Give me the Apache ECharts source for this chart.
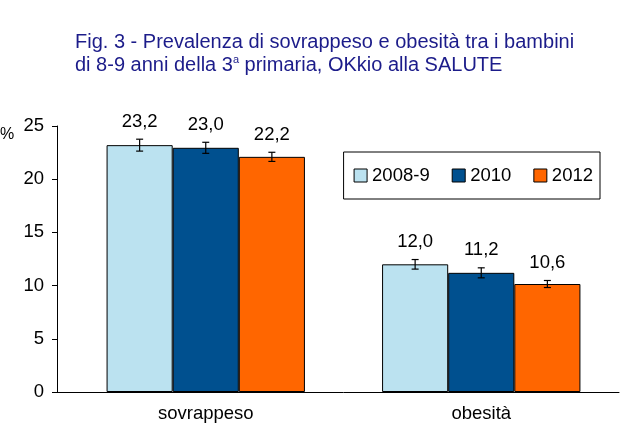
<!DOCTYPE html>
<html><head><meta charset="utf-8">
<script src="https://cdn.jsdelivr.net/npm/echarts@6/dist/echarts.min.js"></script>
<style>html,body{margin:0;padding:0;background:#fff}#c{width:633px;height:439px}</style>
</head><body><div id="c"></div>
<script>
const categories = ['sovrappeso', 'obesità'];
const years = ['2008-9', '2010', '2012'];
const values2008 = [23.2, 12.0];
const values2010 = [22.95, 11.2];
const values2012 = [22.1, 10.15];
const err2008 = [0.56, 0.45];
const err2010 = [0.52, 0.47];
const err2012 = [0.43, 0.33];
const labels2008 = ['23,2', '12,0'];
const labels2010 = ['23,0', '11,2'];
const labels2012 = ['22,2', '10,6'];
const yTicks = [0, 5, 10, 15, 20, 25];
const colors = ['#BBE2F0', '#00508F', '#FF6600'];

const allValues = [values2008, values2010, values2012];
const allErr = [err2008, err2010, err2012];
const allLabels = [labels2008, labels2010, labels2012];
const GAP = 0.28;

const chart = echarts.init(document.getElementById('c'));
const font = 'Liberation Sans, Arial, sans-serif';

const barSeries = years.map((y, i) => ({
  name: y, type: 'bar', data: allValues[i], barGap: '0%', barCategoryGap: (GAP*100)+'%',
  itemStyle: { color: colors[i], borderColor: '#000', borderWidth: 1 },
  z: 2
}));

const errSeries = years.map((y, i) => ({
  type: 'custom', name: 'err' + i, z: 5,
  data: allValues[i].map((v, k) => [k, v, allErr[i][k]]),
  renderItem: function (params, api) {
    const k = api.value(0), v = api.value(1), e = api.value(2);
    const catW = api.size([1, 0])[0];
    const bw = catW * (1 - GAP) / 3;
    const c = api.coord([k, v]);
    const x = c[0] + (i - 1) * bw;
    const top = api.coord([k, v + e])[1];
    const bot = api.coord([k, v - e])[1];
    const cap = 3.5;
    const st = { stroke: '#000', lineWidth: 1.2 };
    return { type: 'group', children: [
      { type: 'line', shape: { x1: x, y1: top, x2: x, y2: bot }, style: st },
      { type: 'line', shape: { x1: x - cap, y1: top, x2: x + cap, y2: top }, style: st },
      { type: 'line', shape: { x1: x - cap, y1: bot, x2: x + cap, y2: bot }, style: st },
      { type: 'text', style: { text: allLabels[i][k], x: x, y: top - 8, align: 'center', verticalAlign: 'bottom',
          font: '18.5px ' + font, fill: '#000' } }
    ]};
  }
}));

chart.setOption({
  animation: false,
  title: {
    text: '{a|Fig. 3 - Prevalenza di sovrappeso e obesità tra i bambini}\n{a|di 8-9 anni della 3}{s|a}{a| primaria, OKkio alla SALUTE}',
    left: 70, top: 26,
    textStyle: {
      fontWeight: 'normal',
      rich: {
        a: { fontFamily: font, fontSize: 20, fontWeight: 'normal', color: '#1C1C8A', lineHeight: 23 },
        s: { fontFamily: font, fontSize: 11, fontWeight: 'normal', color: '#1C1C8A', verticalAlign: 'top', lineHeight: 23, padding: [0, 0, 10, 0] }
      }
    }
  },
  legend: {
    data: years, right: 33, top: 152, height: 46,
    orient: 'horizontal', itemGap: 22, itemWidth: 13, itemHeight: 13,
    padding: [14, 7, 14, 10],
    borderColor: '#000', borderWidth: 1, icon: 'rect',
    textStyle: { fontFamily: font, fontSize: 18.5, color: '#000' },
    itemStyle: { borderColor: '#000', borderWidth: 1 }
  },
  grid: { left: 68, right: 14, top: 126, bottom: 47 },
  xAxis: {
    type: 'category', data: categories,
    axisLine: { lineStyle: { color: '#000', width: 1 } },
    axisTick: { show: false },
    axisLabel: { fontFamily: font, fontSize: 18.5, color: '#000', margin: 12 }
  },
  yAxis: {
    type: 'value', min: 0, max: 25, interval: 5, offset: 11,
    splitLine: { show: false },
    axisLine: { show: true, lineStyle: { color: '#000', width: 1 } },
    axisTick: { show: true, length: 5, lineStyle: { color: '#000' } },
    axisLabel: { fontFamily: font, fontSize: 18.5, color: '#000', margin: 13,
      formatter: v => yTicks.includes(v) ? String(v) : '' }
  },
  graphic: [
    { type: 'line', shape: { x1: 57, y1: 392.5, x2: 68, y2: 392.5 }, style: { stroke: '#000', lineWidth: 1 } },
    { type: 'text', left: 0, top: 127, style: { text: '%', font: '16px ' + font, fill: '#000' } }
  ],
  series: barSeries.concat(errSeries)
});
</script></body></html>
